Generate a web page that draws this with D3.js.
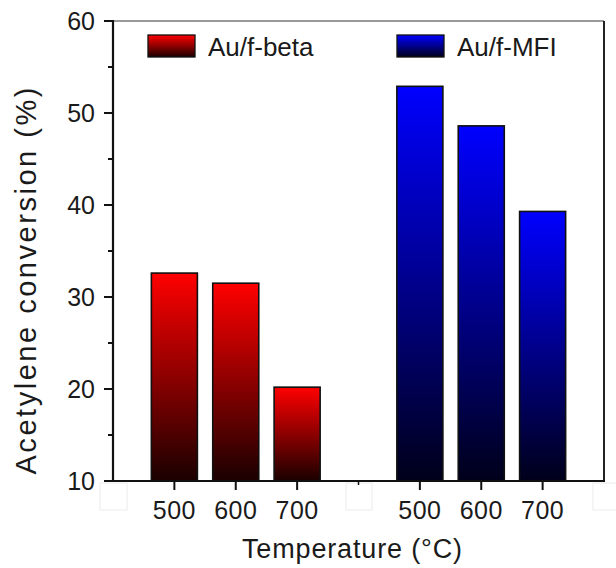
<!DOCTYPE html>
<html>
<head>
<meta charset="utf-8">
<script src="https://cdn.jsdelivr.net/npm/d3@7"></script>
<style>
  body { margin: 0; background: #fff; }
  text { font-family: Arial, "Liberation Sans", sans-serif; fill: #1a1a1a; }
</style>
</head>
<body>
<div class="chart"></div>
<script>
// data
const temps = ['500', '600', '700'];
const seriesNames = ['Au/f-beta', 'Au/f-MFI'];
const betaValues = [32.6, 31.5, 20.2];
const mfiValues = [52.9, 48.6, 39.3];
const yTicks = [10, 20, 30, 40, 50, 60];
const yMinorTicks = [15, 25, 35, 45, 55];

const width = 616;
const height = 568;

// slot positions along x: group 1 at 0..2, gap at 3, group 2 at 4..6
const slots = [[0, 1, 2], [4, 5, 6]];
const seriesValues = [betaValues, mfiValues];
const topColors = ['#ff0000', '#0000ff'];
const bottomColors = ['#1a0000', '#00001a'];

const x = d3.scaleLinear().domain([-1, 7]).range([113, 604]);
const y = d3.scaleLinear().domain([10, 60]).range([481, 21]);
const barW = (x(1) - x(0)) * 0.75;

var svg = d3.select('.chart')
  .append('svg')
  .attr('width', width)
  .attr('height', height);

var defs = svg.append('defs');
seriesNames.forEach(function(s, i) {
  var g = defs.append('linearGradient')
    .attr('id', 'grad' + i)
    .attr('x1', 0).attr('y1', 0).attr('x2', 0).attr('y2', 1);
  g.append('stop').attr('offset', '0%').attr('stop-color', topColors[i]);
  g.append('stop').attr('offset', '100%').attr('stop-color', bottomColors[i]);
});

// faint boxes under the axis (artifacts in the original)
[[100, 127], [346, 372], [593, 620]].forEach(function(b) {
  svg.append('rect')
    .attr('x', b[0]).attr('y', 483)
    .attr('width', b[1] - b[0]).attr('height', 27)
    .attr('fill', 'none').attr('stroke', '#ececec').attr('stroke-width', 1);
});

// bars
var bars = [];
seriesValues.forEach(function(vals, i) {
  vals.forEach(function(v, j) {
    bars.push({series: i, slot: slots[i][j], value: v, label: temps[j]});
  });
});

svg.selectAll('rect.bar')
  .data(bars)
  .enter()
  .append('rect')
  .attr('class', 'bar')
  .attr('x', function(d) { return x(d.slot) - barW / 2; })
  .attr('y', function(d) { return y(d.value); })
  .attr('width', barW)
  .attr('height', function(d) { return y(10) - y(d.value); })
  .attr('fill', function(d) { return 'url(#grad' + d.series + ')'; })
  .attr('stroke', '#111')
  .attr('stroke-width', 1.6);

// frame: top (grey, thin) and right
svg.append('line')
  .attr('x1', x(-1)).attr('x2', x(7)).attr('y1', y(60)).attr('y2', y(60))
  .attr('stroke', '#777').attr('stroke-width', 1.5);
svg.append('line')
  .attr('x1', x(7)).attr('x2', x(7)).attr('y1', y(60)).attr('y2', y(10))
  .attr('stroke', '#222').attr('stroke-width', 2);

// y axis
var yAxis = svg.append('g').attr('transform', 'translate(' + x(-1) + ',0)');
yAxis.append('line')
  .attr('x1', 0).attr('x2', 0).attr('y1', y(60) - 1).attr('y2', y(10) + 1)
  .attr('stroke', '#111').attr('stroke-width', 2.2);
yAxis.selectAll('line.major')
  .data(yTicks).enter().append('line')
  .attr('class', 'major')
  .attr('x1', -9).attr('x2', 0)
  .attr('y1', function(d) { return y(d); }).attr('y2', function(d) { return y(d); })
  .attr('stroke', '#111').attr('stroke-width', 2);
yAxis.selectAll('line.minor')
  .data(yMinorTicks).enter().append('line')
  .attr('class', 'minor')
  .attr('x1', -5).attr('x2', 0)
  .attr('y1', function(d) { return y(d); }).attr('y2', function(d) { return y(d); })
  .attr('stroke', '#111').attr('stroke-width', 2);
yAxis.selectAll('text')
  .data(yTicks).enter().append('text')
  .attr('x', -18)
  .attr('y', function(d) { return y(d) + 9; })
  .attr('text-anchor', 'end')
  .attr('font-size', '25px')
  .text(function(d) { return d; });

// x axis
var xAxis = svg.append('g').attr('transform', 'translate(0,' + y(10) + ')');
xAxis.append('line')
  .attr('x1', x(-1) - 1).attr('x2', x(7) + 1).attr('y1', 0).attr('y2', 0)
  .attr('stroke', '#111').attr('stroke-width', 2.2);
xAxis.selectAll('line.tick')
  .data(bars).enter().append('line')
  .attr('class', 'tick')
  .attr('x1', function(d) { return x(d.slot); }).attr('x2', function(d) { return x(d.slot); })
  .attr('y1', 0).attr('y2', 9)
  .attr('stroke', '#111').attr('stroke-width', 2);
xAxis.append('line')
  .attr('x1', x(3)).attr('x2', x(3)).attr('y1', 0).attr('y2', 4)
  .attr('stroke', '#111').attr('stroke-width', 1.5);
xAxis.selectAll('text')
  .data(bars).enter().append('text')
  .attr('x', function(d) { return x(d.slot); })
  .attr('y', 38)
  .attr('text-anchor', 'middle')
  .attr('font-size', '25px')
  .attr('letter-spacing', '0.5px')
  .text(function(d) { return d.label; });

// axis titles
svg.append('text')
  .attr('x', 352).attr('y', 558)
  .attr('text-anchor', 'middle')
  .attr('font-size', '27px')
  .attr('textLength', 220)
  .attr('lengthAdjust', 'spacing')
  .text('Temperature (°C)');

svg.append('text')
  .attr('transform', 'translate(36,281) rotate(-90)')
  .attr('text-anchor', 'middle')
  .attr('font-size', '29px')
  .attr('textLength', 387)
  .attr('lengthAdjust', 'spacing')
  .text('Acetylene conversion (%)');

// legend
var legendX = [148, 397];
var legend = svg.selectAll('g.legend')
  .data(seriesNames).enter().append('g')
  .attr('class', 'legend')
  .attr('transform', function(d, i) { return 'translate(' + legendX[i] + ',35)'; });
legend.append('rect')
  .attr('width', 47).attr('height', 22)
  .attr('fill', function(d, i) { return 'url(#grad' + i + ')'; })
  .attr('stroke', '#111').attr('stroke-width', 1.3);
legend.append('text')
  .attr('x', 60).attr('y', 21)
  .attr('font-size', '26px')
  .text(function(d) { return d; });
</script>
</body>
</html>
